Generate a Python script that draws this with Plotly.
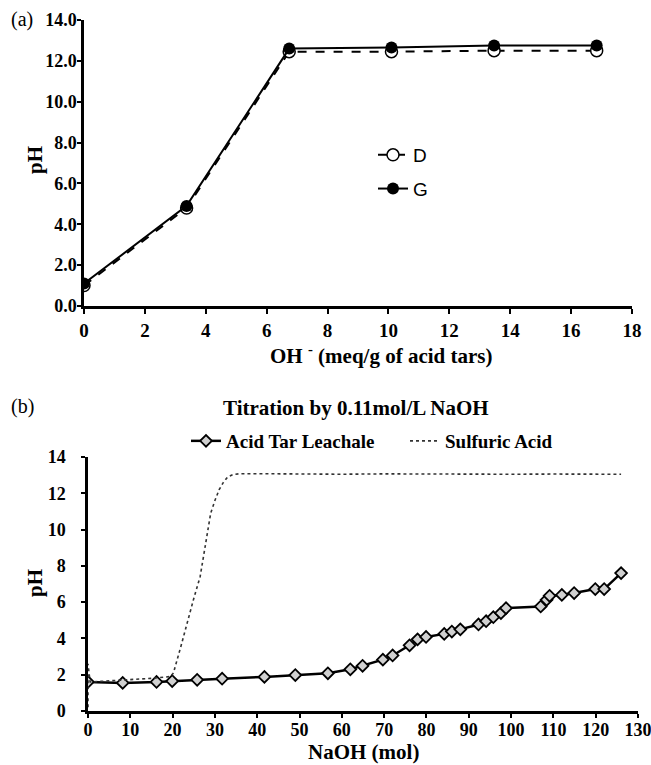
import plotly.graph_objects as go

# ---------------- Data ----------------
# Panel (a)
oh_meq = [0, 3.37, 6.74, 10.1, 13.47, 16.84]
ph_D = [1.0, 4.8, 12.45, 12.45, 12.5, 12.5]
ph_G = [1.1, 4.9, 12.6, 12.65, 12.75, 12.75]

# Panel (b)
naoh_tar = [0, 8.2, 16.2, 19.9, 25.8, 31.7, 41.7, 49.0, 56.7, 62.0, 64.9, 69.7, 72.0,
            76.0, 77.9, 79.9, 84.2, 86.0, 88.0, 92.3, 94.1, 95.8, 97.6, 98.8, 107.0,
            108.4, 109.1, 112.0, 114.9, 119.9, 122.0, 126.0]
ph_tar = [1.6, 1.55, 1.6, 1.65, 1.72, 1.78, 1.88, 1.98, 2.08, 2.3, 2.49, 2.83, 3.06,
          3.62, 3.95, 4.08, 4.25, 4.38, 4.5, 4.77, 4.95, 5.17, 5.4, 5.67, 5.76,
          6.13, 6.35, 6.4, 6.5, 6.72, 6.72, 7.6]

naoh_acid = [0, 0, 0.5, 5, 10, 15, 19.5, 20.2, 22.0, 23.7, 25.0, 26.5, 28.0, 29.0, 30.0,
             31.0, 32.0, 33.0, 34.3, 36.0, 40.0, 50.0, 60.0, 70.0, 80.0, 90.0, 100.0,
             110.0, 120.0, 126.0]
ph_acid = [0.2, 2.6, 1.6, 1.65, 1.72, 1.8, 1.9, 2.1, 3.6, 5.1, 6.2, 7.4, 9.6, 10.9, 11.6,
           12.2, 12.6, 12.9, 13.04, 13.08, 13.08, 13.06, 13.05, 13.07, 13.05, 13.06, 13.05,
           13.06, 13.05, 13.05]

W, H = 651, 765
SERIF = "Liberation Serif"

fig = go.Figure()

fig.add_trace(go.Scatter(
    x=oh_meq, y=ph_D, name="D", mode="lines+markers",
    line=dict(color="black", width=2, dash="dash"),
    marker=dict(symbol="circle", size=12, color="white", line=dict(color="black", width=1.5)),
    xaxis="x", yaxis="y", legend="legend", legendgroup="D"))
fig.add_trace(go.Scatter(
    x=oh_meq, y=ph_G, name="G", mode="lines+markers",
    line=dict(color="black", width=2),
    marker=dict(symbol="circle", size=12, color="black"),
    xaxis="x", yaxis="y", legend="legend", legendgroup="G"))

fig.add_trace(go.Scatter(
    x=naoh_tar, y=ph_tar, name="Acid Tar Leachale", mode="lines+markers",
    line=dict(color="black", width=2.5),
    marker=dict(symbol="diamond", size=9, color="#d0d0d0", line=dict(color="black", width=1.8)),
    xaxis="x2", yaxis="y2", legend="legend2"))
fig.add_trace(go.Scatter(
    x=naoh_acid, y=ph_acid, name="Sulfuric Acid", mode="lines",
    line=dict(color="#333333", width=1.6, dash="dot"),
    xaxis="x2", yaxis="y2", legend="legend2"))


def axis_style(size, ticklen, **extra):
    d = dict(showline=True, linecolor="black", linewidth=2.5, ticks="outside",
             ticklen=ticklen, tickwidth=2, tickcolor="black", showgrid=False,
             zeroline=False, fixedrange=True, automargin=False,
             ticklabeloverflow="allow",
             tickfont=dict(family=SERIF, size=size, color="black", weight="bold"))
    d.update(extra)
    return d


fig.update_layout(
    width=W, height=H, margin=dict(l=0, r=0, t=0, b=0, pad=0),
    paper_bgcolor="white", plot_bgcolor="white",
    xaxis=dict(domain=[84 / W, 632 / W], range=[0, 18], tick0=0, dtick=2,
               anchor="y", **axis_style(19, 5)),
    yaxis=dict(domain=[1 - 306 / H, 1 - 20 / H], range=[0, 14], tick0=0, dtick=2,
               tickformat=".1f", anchor="x", **axis_style(18, 4, ticklabelstandoff=-3)),
    xaxis2=dict(domain=[88 / W, 638 / W], range=[0, 130], tick0=0, dtick=10,
                anchor="y2", **axis_style(18, 4, ticklabelstandoff=-3)),
    yaxis2=dict(domain=[1 - 711 / H, 1 - 457 / H], range=[0, 14], tick0=0, dtick=2,
                anchor="x2", **axis_style(18, 4, ticklabelstandoff=12)),
    legend=dict(x=373 / W, y=1 - 136 / H, xanchor="left", yanchor="top",
                bgcolor="rgba(0,0,0,0)", tracegroupgap=6,
                font=dict(family="Liberation Sans", size=19, color="black")),
    legend2=dict(x=186 / W, y=1 - 422 / H, xanchor="left", yanchor="top",
                 orientation="h", bgcolor="rgba(0,0,0,0)", entrywidth=174,
                 font=dict(family=SERIF, size=19, color="black", weight="bold")),
    showlegend=True,
)

annotations = [
    dict(text="(a)", x=9, y=19, font=dict(family=SERIF, size=20)),
    dict(text="(b)", x=9, y=406, font=dict(family=SERIF, size=20)),
    dict(text="<b>pH</b>", x=35, y=160, textangle=-90, font=dict(family=SERIF, size=21)),
    dict(text="<b>pH</b>", x=35, y=583, textangle=-90, font=dict(family=SERIF, size=21)),
    dict(text="<b>OH <sup>-</sup> (meq/g of acid tars)</b>", x=381, y=354,
         font=dict(family=SERIF, size=21)),
    dict(text="<b>Titration by 0.11mol/L NaOH</b>", x=356, y=408,
         font=dict(family=SERIF, size=21)),
    dict(text="<b>NaOH (mol)</b>", x=364, y=752, font=dict(family=SERIF, size=21)),
]
for a in annotations:
    xpx, ypx = a.pop("x"), a.pop("y")
    anchor = "left" if a["text"] in ("(a)", "(b)") else "center"
    fig.add_annotation(x=xpx / W, y=1 - ypx / H, xref="paper", yref="paper",
                       xanchor=anchor, yanchor="middle", showarrow=False,
                       font_color="black", **a)

fig.write_html("out.html")
